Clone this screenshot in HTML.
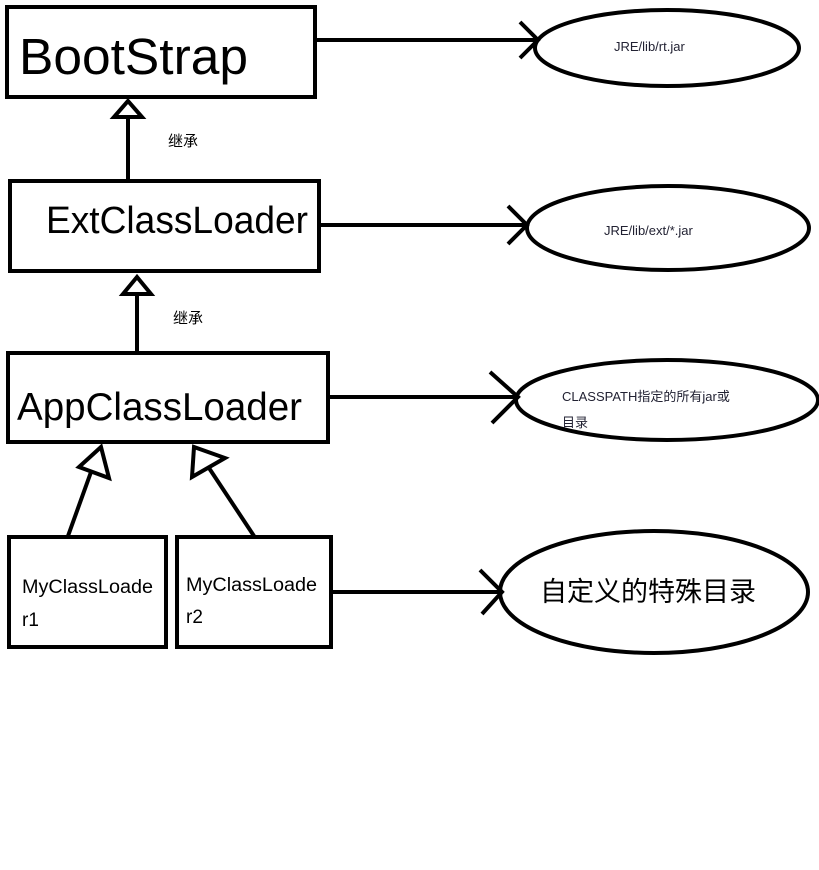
<!DOCTYPE html>
<html><head><meta charset="utf-8"><style>body{margin:0;background:#fff}svg{display:block}</style></head>
<body>
<svg width="819" height="870" xmlns="http://www.w3.org/2000/svg" font-family="'Liberation Sans','Noto Sans CJK SC',sans-serif">
<g fill="none" stroke="#000" stroke-width="4">
<rect x="7" y="7" width="308" height="90"/>
<rect x="10" y="181" width="309" height="90"/>
<rect x="8" y="353" width="320" height="89"/>
<rect x="9" y="537" width="157" height="110"/>
<rect x="177" y="537" width="154" height="110"/>
<ellipse cx="667" cy="48" rx="132" ry="38"/>
<ellipse cx="668" cy="228" rx="141" ry="42"/>
<ellipse cx="667" cy="400" rx="151" ry="40"/>
<ellipse cx="654" cy="592" rx="154" ry="61"/>
<line x1="315" y1="40" x2="538" y2="40"/>
<polyline points="520,22 538,40 520,58"/>
<line x1="319" y1="225" x2="527" y2="225"/>
<polyline points="508,206 527,225 508,244"/>
<line x1="328" y1="397" x2="518" y2="397"/>
<polyline points="490,372 518,397 492,423"/>
<line x1="331" y1="592" x2="502" y2="592"/>
<polyline points="480,570 502,592 482,614"/>
<line x1="128" y1="118" x2="128" y2="179"/>
<polygon points="128,101 114,117 142,117"/>
<line x1="137" y1="295" x2="137" y2="352"/>
<polygon points="137,277 123,294 151,294"/>
<line x1="91" y1="472" x2="68" y2="536"/>
<polygon points="101,447 79,467 109,478"/>
<line x1="209" y1="468" x2="254" y2="536"/>
<polygon points="194,447 225,458 192,477"/>
</g>
<text x="19" y="74" font-size="51" textLength="229" lengthAdjust="spacingAndGlyphs">BootStrap</text>
<text x="46" y="233" font-size="38" textLength="262" lengthAdjust="spacingAndGlyphs">ExtClassLoader</text>
<text x="17" y="420" font-size="39" textLength="285" lengthAdjust="spacingAndGlyphs">AppClassLoader</text>
<text x="168" y="146" font-size="15">继承</text>
<text x="173" y="323" font-size="15">继承</text>
<text x="614" y="51" font-size="13" fill="#223">JRE/lib/rt.jar</text>
<text x="604" y="235" font-size="13" fill="#223">JRE/lib/ext/*.jar</text>
<text x="562" y="401" font-size="13" fill="#223">CLASSPATH指定的所有jar或</text>
<text x="562" y="427" font-size="13" fill="#223">目录</text>
<text x="22" y="593" font-size="19" textLength="131" lengthAdjust="spacingAndGlyphs">MyClassLoade</text>
<text x="22" y="626" font-size="19">r1</text>
<text x="186" y="591" font-size="19" textLength="131" lengthAdjust="spacingAndGlyphs">MyClassLoade</text>
<text x="186" y="623" font-size="19">r2</text>
<text x="540" y="601" font-size="27">自定义的特殊目录</text>
</svg>
</body></html>
